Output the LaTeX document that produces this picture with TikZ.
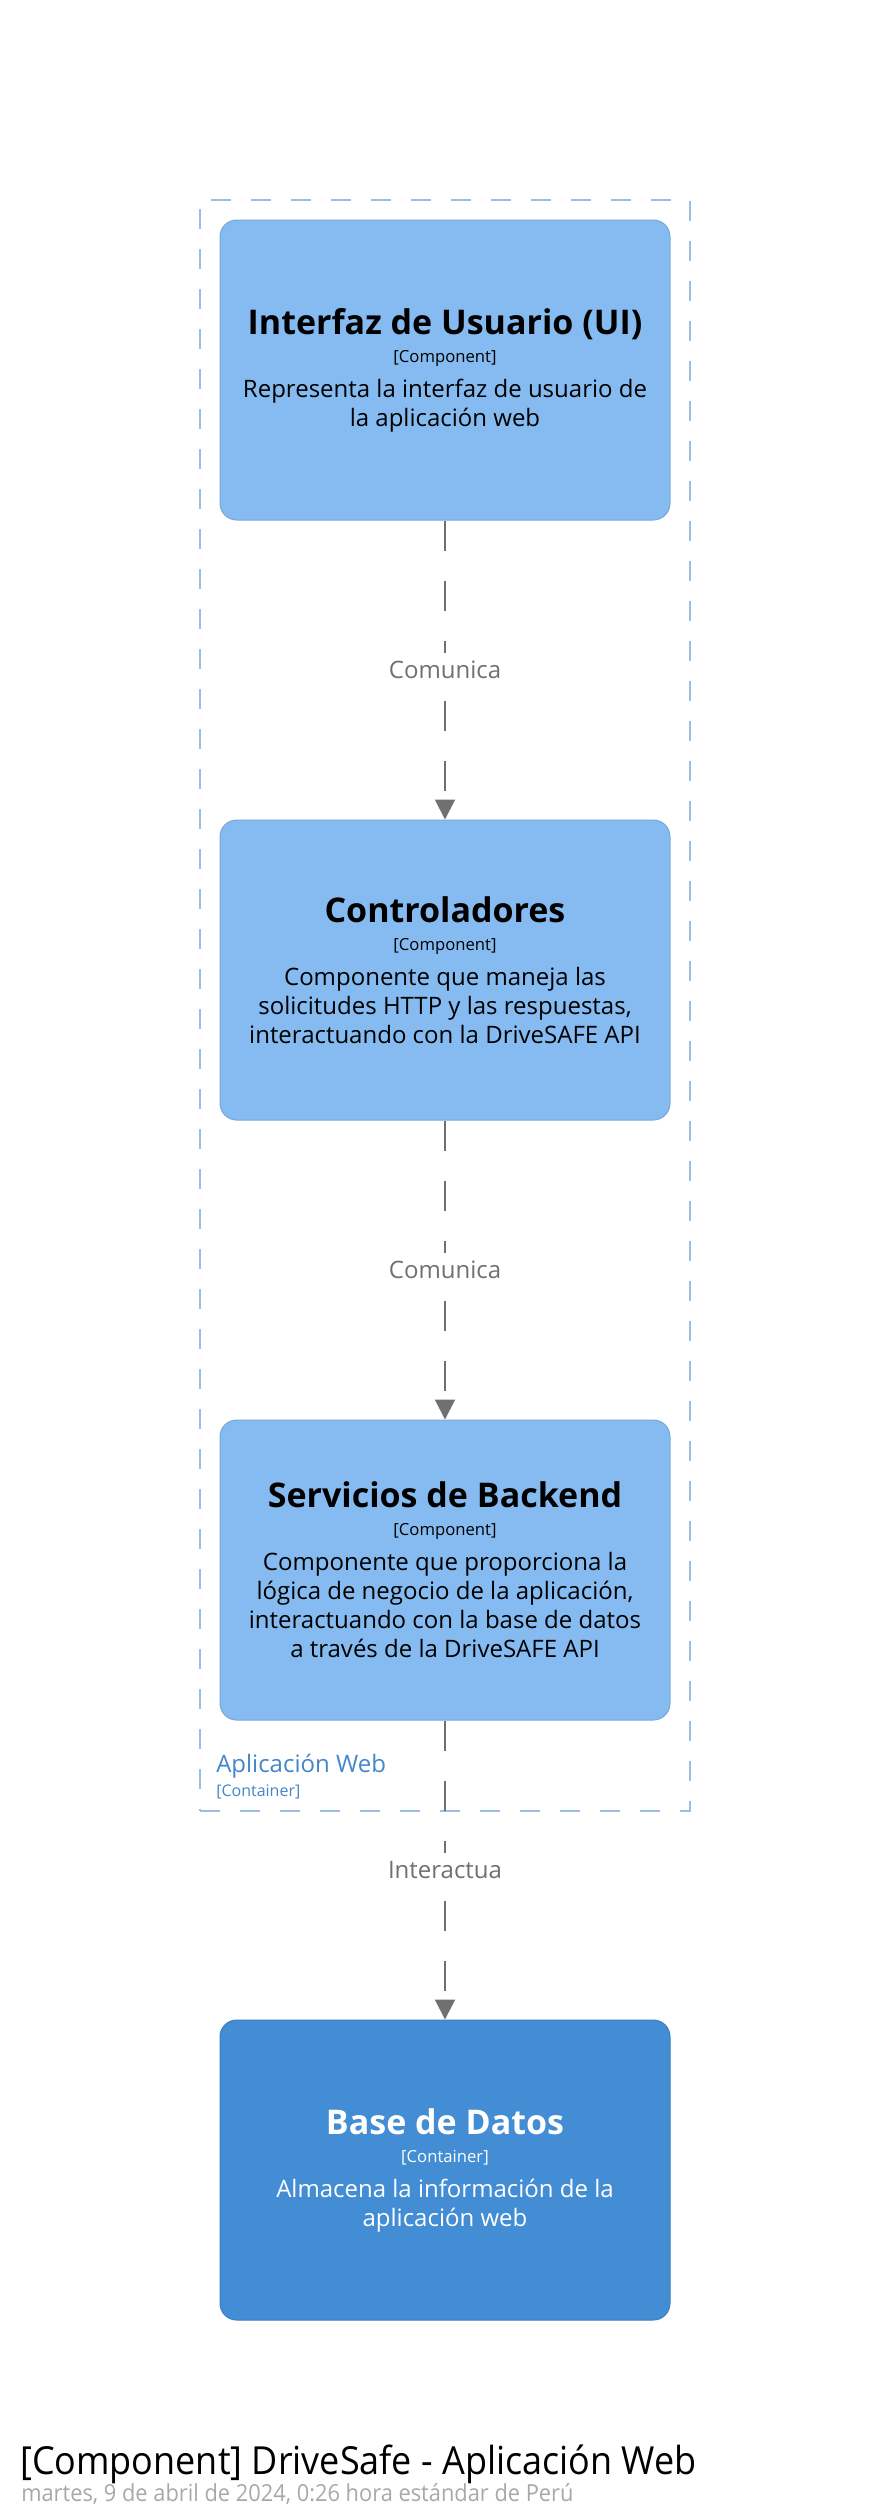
\documentclass[tikz,border=0pt]{standalone}
\usepackage{fontspec}
\setmainfont{Open Sans}
\newfontfamily\footfont[FakeStretch=0.93]{Open Sans}
\usetikzlibrary{arrows.meta,positioning}
\definecolor{compblue}{HTML}{85BBF0}
\definecolor{compline}{HTML}{78A8D8}
\definecolor{dbblue}{HTML}{438DD5}
\definecolor{dbline}{HTML}{3C7FC0}
\definecolor{bndline}{RGB}{155,190,225}
\definecolor{bndtext}{HTML}{4585CA}
\definecolor{relgray}{HTML}{707070}
\definecolor{dategray}{HTML}{A8A8A8}
\newcommand{\nm}[1]{{\fontsize{25.5}{21.75}\selectfont\bfseries #1}}
\newcommand{\tp}[1]{{\fontsize{12.5}{21.75}\selectfont #1}}
\tikzstyle{compblock}=[rectangle, rounded corners=12.5pt, draw=compline, fill=compblue, line width=0.75pt, align=center, minimum width=337.5pt, minimum height=225pt, inner sep=0pt, font=\fontsize{18}{21.75}\selectfont]
\tikzstyle{dbblock}=[compblock, draw=dbline, fill=dbblue, text=white]
\tikzstyle{boundary}=[rectangle, draw=bndline, line width=1.5pt, dash pattern=on 15pt off 15pt, minimum width=367.5pt, minimum height=1208.25pt, inner sep=0pt]
\tikzstyle{rel}=[draw=relgray, line width=1.5pt, dash pattern=on 22.5pt off 22.5pt, -{Triangle[width=15pt,length=15pt]}]
\tikzstyle{rellabel}=[fill=white, text=relgray, font=\fontsize{18}{21.75}\selectfont, inner xsep=2pt, inner ysep=6pt]

\begin{document}
\begin{tikzpicture}[x=0.75pt, y=-0.75pt]
\useasboundingbox (0,0) rectangle (890,2520);

\node[boundary] (app) at (445,1005.5) {};
\node[anchor=base west, text=bndtext, font=\fontsize{18}{21.75}\selectfont, inner sep=0pt] (app-name) at (216,1772) {Aplicación Web};
\node[anchor=base west, text=bndtext, font=\fontsize{12}{14}\selectfont, inner sep=0pt] (app-type) at (216,1796) {[Container]};

\node[compblock] (ui) at (445,370) {\nm{Interfaz de Usuario (UI)}\\[-0.75pt] \tp{[Component]}\\[4.5pt] Representa la interfaz de usuario de\\ la aplicación web};
\node[compblock] (ctrl) at (445,970) {\nm{Controladores}\\[-0.75pt] \tp{[Component]}\\[4.5pt] Componente que maneja las\\ solicitudes HTTP y las respuestas,\\ interactuando con la DriveSAFE API};
\node[compblock] (serv) at (445,1570) {\nm{Servicios de Backend}\\[-0.75pt] \tp{[Component]}\\[4.5pt] Componente que proporciona la\\ lógica de negocio de la aplicación,\\ interactuando con la base de datos\\ a través de la DriveSAFE API};
\node[dbblock] (db) at (445,2170) {\nm{Base de Datos}\\[-0.75pt] \tp{[Container]}\\[4.5pt] Almacena la información de la\\ aplicación web};

\draw[rel] (ui) -- node[rellabel] (rel1) {Comunica} (ctrl);
\draw[rel] (ctrl) -- node[rellabel] (rel2) {Comunica} (serv);
\draw[rel] (serv) -- node[rellabel] (rel3) {Interactua} (db);

% titulo del diagrama
\node[anchor=base west, inner sep=0pt, font=\footfont\fontsize{29}{34}\selectfont] (title) at (20,2474) {[Component] DriveSafe - Aplicación Web};
\node[anchor=base west, inner sep=0pt, text=dategray, font=\footfont\fontsize{17.6}{21}\selectfont] (date) at (21,2501) {martes, 9 de abril de 2024, 0:26 hora estándar de Perú};

\end{tikzpicture}
\end{document}
